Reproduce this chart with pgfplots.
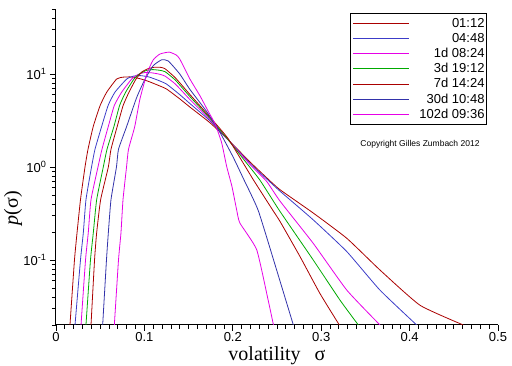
\documentclass[border=0pt]{standalone}
\usepackage{pgfplots}
\pgfplotsset{compat=1.18}
\usepackage{fontspec}
\setmainfont{Liberation Sans}
\newfontfamily\serif{Liberation Serif}
\definecolor{cred}{RGB}{170,0,0}
\definecolor{cblue}{RGB}{60,60,200}
\definecolor{cblueb}{RGB}{50,50,170}
\definecolor{cmag}{RGB}{230,0,230}
\definecolor{cgreen}{RGB}{0,170,0}
\begin{document}
\begin{tikzpicture}
\begin{axis}[
  scale only axis, width=442pt, height=316pt,
  xmin=0, xmax=0.5, ymin=0.02, ymax=50, ymode=log,
  axis x line=bottom, axis y line=left,
  axis line style={-, line width=1pt},
  xtick={0,0.1,0.2,0.3,0.4,0.5},
  xticklabels={0,0.1,0.2,0.3,0.4,0.5},
  minor x tick num=9,
  ytick={0.1,1,10},
  yticklabels={10\textsuperscript{-1},10\textsuperscript{0},10\textsuperscript{1}},
  minor ytick={0.02,0.03,0.04,0.05,0.06,0.07,0.08,0.09,0.2,0.3,0.4,0.5,0.6,0.7,0.8,0.9,2,3,4,5,6,7,8,9,20,30,40,50},
  tick align=outside,
  major tick length=6pt, minor tick length=4pt,
  every tick/.style={black, line width=0.8pt},
  ticklabel style={font=\fontsize{13}{15}\selectfont},
  xticklabel style={inner sep=1pt},
  xlabel={\serif volatility\hspace{14pt}σ},
  xlabel style={font=\fontsize{20}{24}\selectfont, at={(axis description cs:0.5,0)}, anchor=base, yshift=-36pt},
  ylabel={{\serif\itshape p}{\serif(σ)}},
  ylabel style={font=\fontsize{20}{24}\selectfont, at={(axis description cs:-0.097,0.37)}, anchor=center},
  legend style={at={(0.975,0.987)}, anchor=north east, draw=black, line width=0.8pt, fill=white,
    font=\fontsize{13}{15}\selectfont, inner xsep=2pt, inner ysep=4pt, row sep=3.7pt, column sep=10pt,
    nodes={inner sep=0pt, text height=9.5pt, text depth=2pt}},
  legend cell align=right,
  legend image code/.code={\draw[#1, line width=0.8pt] (0pt,0pt) -- (56pt,0pt);},
]
\addplot[cred, line width=0.8pt, smooth, tension=0.3] coordinates {
(0.0158,0.02) (0.0209,0.1) (0.0238,0.196) (0.0277,0.445) (0.0328,1.0) (0.0362,1.55) (0.0422,2.74) (0.050,4.6) (0.0574,6.38) (0.0686,8.83) (0.076,9.25) (0.085,9.3) (0.095,8.9) (0.105,8.3) (0.115,7.6) (0.125,6.9) (0.14,5.4) (0.1516,4.4) (0.174,3.0) (0.195,1.95) (0.22,1.12) (0.24,0.74) (0.2534,0.57) (0.291,0.32) (0.329,0.171) (0.3665,0.078) (0.4118,0.0326) (0.4608,0.02)};
\addlegendentry{01:12}
\addplot[cblue, line width=0.8pt, smooth, tension=0.3] coordinates {
(0.0215,0.02) (0.0277,0.1) (0.0309,0.196) (0.0339,0.445) (0.0402,1.0) (0.0441,1.55) (0.0517,2.74) (0.059,4.6) (0.0667,6.38) (0.080,8.83) (0.088,9.5) (0.096,9.6) (0.105,9.3) (0.115,8.6) (0.125,7.8) (0.14,6.0) (0.1516,4.8) (0.174,3.15) (0.195,1.95) (0.22,1.08) (0.24,0.72) (0.2534,0.55) (0.291,0.27) (0.329,0.123) (0.3665,0.0474) (0.408,0.02)};
\addlegendentry{04:48}
\addplot[cmag, line width=0.8pt, smooth, tension=0.3] coordinates {
(0.0283,0.02) (0.0334,0.1) (0.0365,0.196) (0.0396,0.445) (0.0475,1.0) (0.052,1.55) (0.0592,2.74) (0.066,4.6) (0.0743,6.38) (0.0856,8.83) (0.093,9.9) (0.1,10.35) (0.108,10.3) (0.116,10.0) (0.1233,9.5) (0.135,7.8) (0.1516,5.3) (0.174,3.25) (0.195,1.95) (0.22,1.05) (0.2383,0.7) (0.2534,0.43) (0.291,0.151) (0.329,0.0474) (0.3665,0.02)};
\addlegendentry{1d 08:24}
\addplot[cgreen, line width=0.8pt, smooth, tension=0.3] coordinates {
(0.0339,0.02) (0.039,0.1) (0.0422,0.196) (0.046,0.445) (0.0535,1.0) (0.0577,1.55) (0.0656,2.74) (0.072,4.6) (0.0788,6.38) (0.0882,8.83) (0.095,10.1) (0.102,10.9) (0.109,11.15) (0.116,11.0) (0.1233,10.6) (0.135,8.6) (0.1516,5.7) (0.174,3.35) (0.195,1.95) (0.215,1.12) (0.2308,0.72) (0.2534,0.333) (0.291,0.1) (0.3213,0.037) (0.342,0.02)};
\addlegendentry{3d 19:12}
\addplot[cred, line width=0.8pt, smooth, tension=0.3] coordinates {
(0.0396,0.02) (0.0436,0.1) (0.046,0.196) (0.0505,0.445) (0.0592,1.0) (0.0622,1.55) (0.0693,2.74) (0.076,4.6) (0.0826,6.38) (0.0905,8.83) (0.097,10.5) (0.104,11.4) (0.111,11.8) (0.118,11.8) (0.1233,11.4) (0.135,9.1) (0.1516,6.0) (0.174,3.45) (0.195,2.0) (0.2232,0.73) (0.2455,0.34) (0.2534,0.26) (0.276,0.109) (0.2986,0.0436) (0.3205,0.02)};
\addlegendentry{7d 14:24}
\addplot[cblueb, line width=0.8pt, smooth, tension=0.3] coordinates {
(0.0528,0.02) (0.0571,0.1) (0.0592,0.196) (0.0622,0.445) (0.0684,1.0) (0.0707,1.55) (0.080,2.74) (0.0913,5.6) (0.1007,8.8) (0.11,12.3) (0.1195,14.2) (0.127,13.8) (0.14,10.0) (0.1516,6.8) (0.17,4.0) (0.185,2.4) (0.2,1.3) (0.212,0.75) (0.2288,0.34) (0.2496,0.078) (0.2685,0.02)};
\addlegendentry{30d 10:48}
\addplot[cmag, line width=0.8pt, smooth, tension=0.3] coordinates {
(0.066,0.02) (0.0707,0.1) (0.0735,0.196) (0.0758,0.445) (0.0798,1.0) (0.082,1.55) (0.089,2.7) (0.095,5.4) (0.103,10.2) (0.110,14.2) (0.1176,16.4) (0.128,17.2) (0.136,16.0) (0.140,14.5) (0.1516,8.8) (0.163,5.8) (0.172,4.0) (0.18,2.9) (0.1874,1.82) (0.193,1.02) (0.199,0.62) (0.2044,0.345) (0.208,0.25) (0.227,0.129) (0.240,0.037) (0.246,0.02)};
\addlegendentry{102d 09:36}
\node[font=\fontsize{8.5}{10}\selectfont] at (rel axis cs:0.8235,0.573) {Copyright Gilles Zumbach 2012};
\end{axis}
\pgfresetboundingbox
\path (-56pt,-41pt) rectangle (456pt,325pt);
\end{tikzpicture}
\end{document}
